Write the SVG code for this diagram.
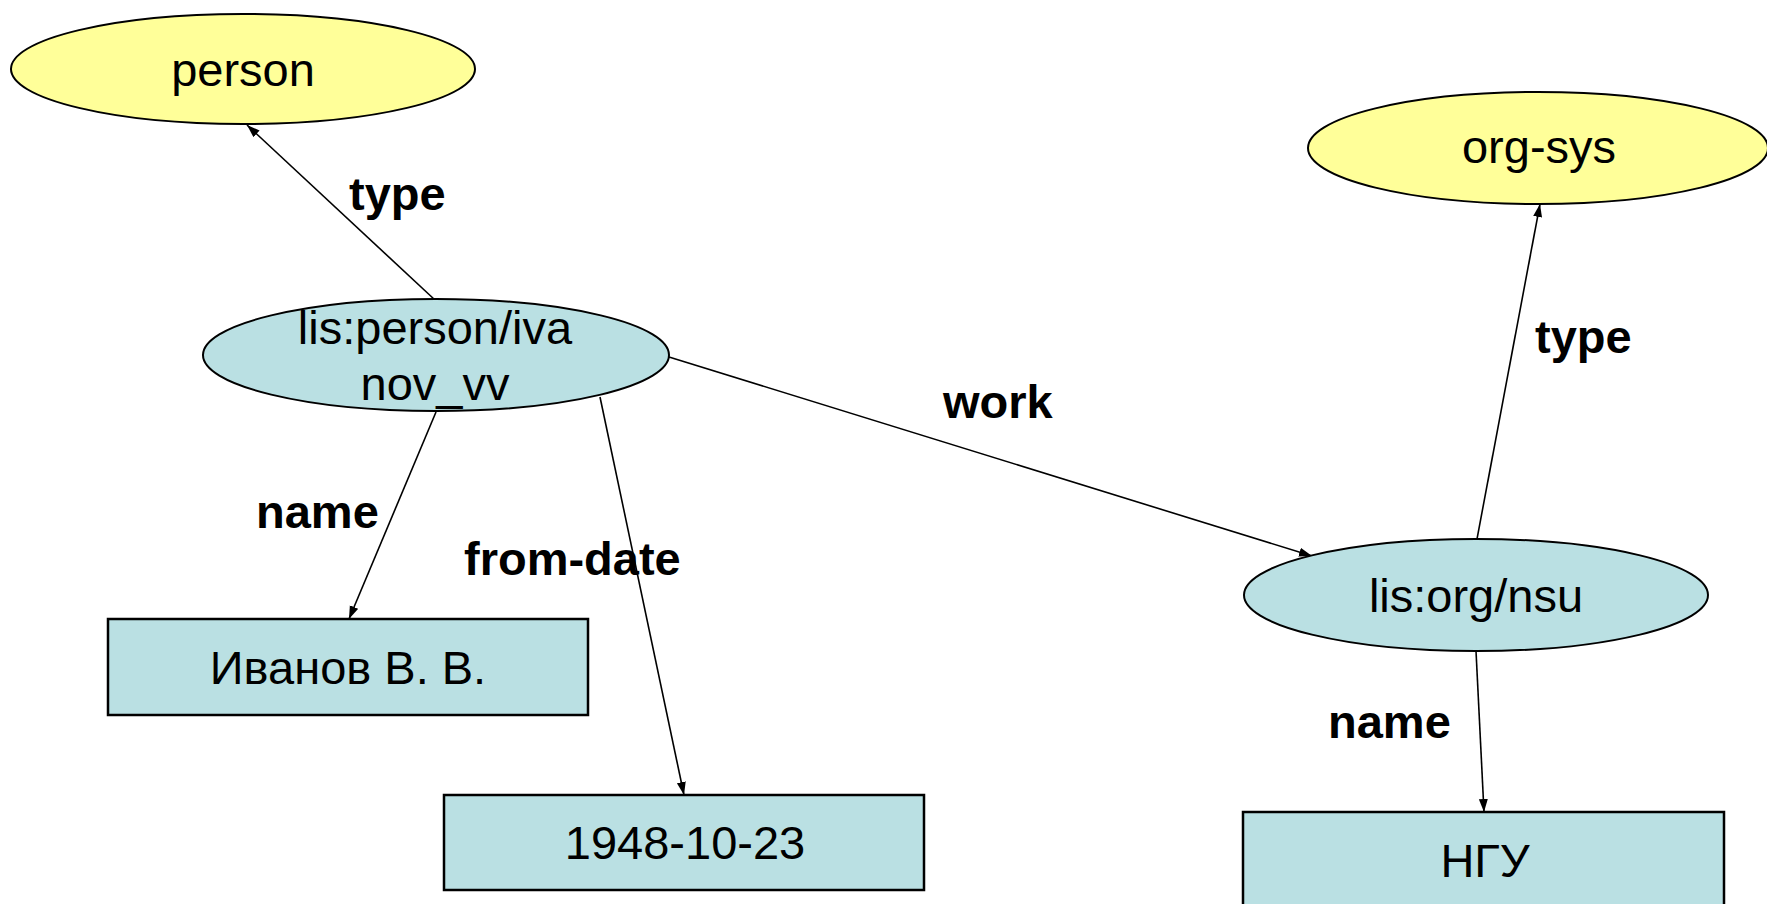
<svg xmlns="http://www.w3.org/2000/svg" width="1767" height="904" viewBox="0 0 1767 904">
<style>
.cls{fill:#FFFF99;stroke:#000;stroke-width:2}
.res{fill:#BAE0E3;stroke:#000;stroke-width:2}
.lit{fill:#BAE0E3;stroke:#000;stroke-width:2.5}
.t{font-family:"Liberation Sans",Arial,sans-serif;font-size:47px;fill:#000;text-anchor:middle}
.lbl{font-family:"Liberation Sans",Arial,sans-serif;font-size:47px;font-weight:bold;fill:#000}
.edge{stroke:#000;stroke-width:1.6;fill:none;marker-end:url(#arr)}
</style>
<defs>
<marker id="arr" markerUnits="userSpaceOnUse" markerWidth="14" markerHeight="10" refX="13" refY="4.5" orient="auto">
<path d="M0,0 L13,4.5 L0,9 Z" fill="#000"/>
</marker>
</defs>
<rect width="1767" height="904" fill="#fff"/>
<g id="connectors">
<line class="edge" x1="435" y1="300" x2="247" y2="125"/>
<line class="edge" x1="436" y1="412" x2="349" y2="619"/>
<line class="edge" x1="600" y1="397" x2="684" y2="795"/>
<line class="edge" x1="669" y1="357" x2="1312" y2="556"/>
<line class="edge" x1="1477" y1="539" x2="1540" y2="204"/>
<line class="edge" x1="1476" y1="651" x2="1484" y2="812"/>
<text class="lbl" x="349" y="210">type</text>
<text class="lbl" x="256" y="528">name</text>
<text class="lbl" x="464" y="575">from-date</text>
<text class="lbl" x="943" y="418">work</text>
<text class="lbl" x="1535" y="353">type</text>
<text class="lbl" x="1328" y="738">name</text>
</g>
<g id="person">
<ellipse class="cls" cx="243" cy="69" rx="232" ry="55"/>
<text class="t" x="243" y="86">person</text>
</g>
<g id="org-sys">
<ellipse class="cls" cx="1538" cy="148" rx="230" ry="56"/>
<text class="t" x="1539" y="163">org-sys</text>
</g>
<g id="ivanov">
<ellipse class="res" cx="436" cy="355" rx="233" ry="56"/>
<text class="t" x="435" y="344">lis:person/iva</text>
<text class="t" x="435" y="400">nov_vv</text>
</g>
<g id="nsu">
<ellipse class="res" cx="1476" cy="595" rx="232" ry="56"/>
<text class="t" x="1476" y="612">lis:org/nsu</text>
</g>
<g id="name-literal">
<rect class="lit" x="108" y="619" width="480" height="96"/>
<text class="t" x="348" y="684">Иванов В. В.</text>
</g>
<g id="date-literal">
<rect class="lit" x="444" y="795" width="480" height="95"/>
<text class="t" x="685" y="859">1948-10-23</text>
</g>
<g id="ngu-literal">
<rect class="lit" x="1243" y="812" width="481" height="110"/>
<text class="t" x="1485" y="877">НГУ</text>
</g>
</svg>
